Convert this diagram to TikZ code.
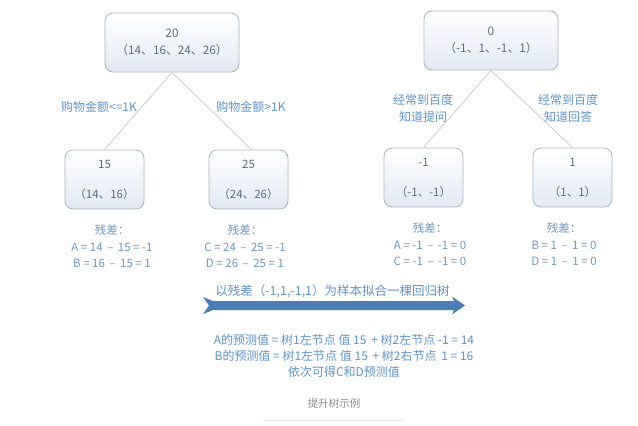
\documentclass[tikz,border=0pt]{standalone}
\usepackage{fontspec}
\setmainfont{Noto Sans CJK SC}
\definecolor{lb}{HTML}{5E93C9}
\definecolor{resc}{HTML}{6E97C0}
\definecolor{ntext}{HTML}{5A6E80}
\definecolor{boxdraw}{HTML}{A9B4C0}
\definecolor{boxfill}{HTML}{E2E9F4}
\definecolor{edgec}{HTML}{C2C8CF}
\definecolor{arrowc}{HTML}{4A7EB4}
\definecolor{capc}{HTML}{8A8A8A}
\definecolor{capline}{HTML}{E2E2E2}
\tikzset{
  box/.style={draw=boxdraw, rounded corners=8pt, top color=white, bottom color=boxfill,
    line width=0.8pt, align=center, text=ntext, inner sep=0pt},
  rootbox/.style={box, minimum width=134pt, minimum height=59pt, font=\fontsize{11.8}{17}\selectfont},
  leafbox/.style={box, minimum width=79pt, minimum height=59pt, font=\fontsize{11.5}{12}\selectfont},
  edge/.style={draw=edgec, line width=0.7pt},
  lbl/.style={text=lb, font=\fontsize{12}{17}\selectfont, align=center, inner sep=0pt},
  res/.style={text=resc, font=\fontsize{11.5}{16.5}\selectfont, align=center, inner sep=0pt},
}
\begin{document}
\begin{tikzpicture}[x=1pt,y=-1pt]
\useasboundingbox (0,0) rectangle (638,426);
% left tree
\node[rootbox] (r1) at (172,42.5) {20\\（14、16、24、26）};
\node[leafbox] (c1) at (104.5,179.5) {15\\[18pt]（14、16）};
\node[leafbox] (c2) at (248.5,179.5) {25\\[18pt]（24、26）};
\draw[edge] (r1.south) -- (c1.north);
\draw[edge] (r1.south) -- ([xshift=3pt]c2.north);
\node[lbl] (l1) at (99,107) {购物金额<=1K};
\node[lbl] (l2) at (251,107) {购物金额>1K};
\node[res] (s1) at (112,246.5) {残差：\\A = 14 \,–\, 15 = -1\\B = 16 \,–\, 15 = 1};
\node[res] (s2) at (245,246.5) {残差：\\C = 24 \,–\, 25 = -1\\D = 26 \,–\, 25 = 1};
% right tree
\node[rootbox] (r2) at (491,40.5) {0\\（-1、1、-1、1）};
\node[leafbox] (d1) at (423.5,177.5) {-1\\[18pt]（-1、-1）};
\node[leafbox] (d2) at (572.5,177.5) {1\\[18pt]（1、1）};
\draw[edge] (r2.south) -- (d1.north);
\draw[edge] (r2.south) -- (d2.north);
\node[lbl] (l3) at (423,108.5) {经常到百度\\知道提问};
\node[lbl] (l4) at (568,108.5) {经常到百度\\知道回答};
\node[res] (s3) at (430,244.5) {残差：\\A = -1 \,–\, -1 = 0\\C = -1 \,–\, -1 = 0};
\node[res] (s4) at (564,244.5) {残差：\\B = 1 \,–\, 1 = 0\\D = 1 \,–\, 1 = 0};
% arrow
\node[lbl, font=\fontsize{12.5}{15}\selectfont] (al) at (332.5,291.5) {以残差（-1,1,-1,1）为样本拟合一棵回归树};
\fill[arrowc] (203,297) -- (213,301) -- (454,301) -- (452,296.5) -- (465,305.5)
  -- (452,314.5) -- (454,310) -- (213,310) -- (203,314) -- (209,305.5) -- cycle;
% bottom text
\node[lbl, font=\fontsize{12}{16}\selectfont] (bt) at (344,356) {A的预测值 = 树1左节点 值 15 \,+ 树2左节点 -1 = 14\\B的预测值 = 树1左节点 值 15 \,+ 树2右节点 \,1 = 16\\依次可得C和D预测值};
\node[text=capc, font=\fontsize{10.5}{12}\selectfont, inner sep=0pt] (cap) at (334,404) {提升树示例};
\coordinate (cl1) at (263,420);
\coordinate (cl2) at (403,420);
\draw[capline, line width=0.8pt] (cl1) -- (cl2);
\end{tikzpicture}
\end{document}
